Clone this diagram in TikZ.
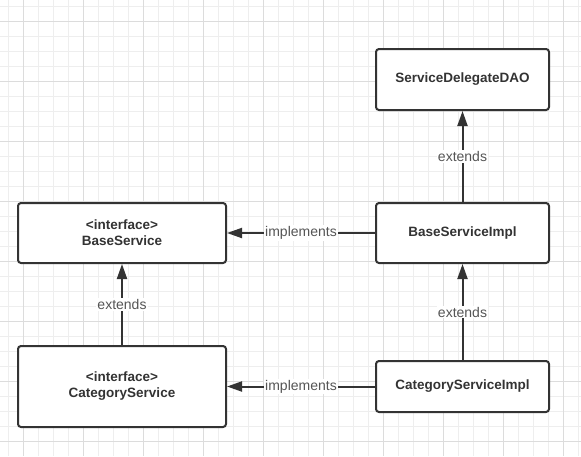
\documentclass[tikz,border=0pt]{standalone}
\usepackage{fontspec}
\setmainfont{Liberation Sans}
\usetikzlibrary{arrows.meta}
\definecolor{gridlight}{HTML}{EEEEEE}
\definecolor{griddark}{HTML}{DCDCDC}
\definecolor{boxline}{HTML}{333333}
\definecolor{lbltext}{HTML}{555555}
\begin{document}
\begin{tikzpicture}[x=1pt, y=-1pt,
    cls/.style={draw=boxline, line width=2pt, rounded corners=3pt, fill=white,
        font=\fontsize{13.5}{16}\selectfont\bfseries, text=boxline, align=center, inner sep=0pt},
    conn/.style={draw=boxline, line width=2pt, -{Triangle[length=15pt, width=10pt]}},
    lbl/.style={fill=white, text=lbltext, font=\fontsize{14}{16}\selectfont, inner sep=1pt}]
                \useasboundingbox[fill=white] (0,0) rectangle (581,456);
                % background grid
                \foreach \k in {0,...,38} \draw[gridlight, line width=1pt] (8.3+15*\k,0) -- (8.3+15*\k,456);
                \foreach \k in {0,...,29} \draw[gridlight, line width=1pt] (0,6.7+15*\k) -- (581,6.7+15*\k);
                \foreach \k in {0,...,9} \draw[griddark, line width=1pt] (23.3+60*\k,0) -- (23.3+60*\k,456);
                \foreach \k in {0,...,7} \draw[griddark, line width=1pt] (0,21.7+60*\k) -- (581,21.7+60*\k);
                % classes
                \node[cls, minimum width=173pt, minimum height=61pt] (dao) at (462.5,79.5) {ServiceDelegateDAO};
                \node[cls, minimum width=173pt, minimum height=60pt] (baseimpl) at (462.5,233) {BaseServiceImpl};
                \node[cls, minimum width=173pt, minimum height=51pt] (catimpl) at (462.5,386.5) {CategoryServiceImpl};
                % interfaces
                \node[cls, minimum width=208pt, minimum height=60pt] (base) at (122,233) {<interface>\\BaseService};
                \node[cls, minimum width=208pt, minimum height=81pt] (cat) at (122,386.5) {<interface>\\CategoryService};
                % relations
                \draw[conn] (baseimpl) -- node[lbl] {extends} (dao);
                \draw[conn] (catimpl) -- node[lbl] {extends} (baseimpl);
                \draw[conn] (cat) -- node[lbl] {extends} (base);
                \draw[conn] (baseimpl) -- node[lbl] {implements} (base);
                \draw[conn] (catimpl) -- node[lbl] {implements} (cat);
            \end{tikzpicture}
\end{document}
